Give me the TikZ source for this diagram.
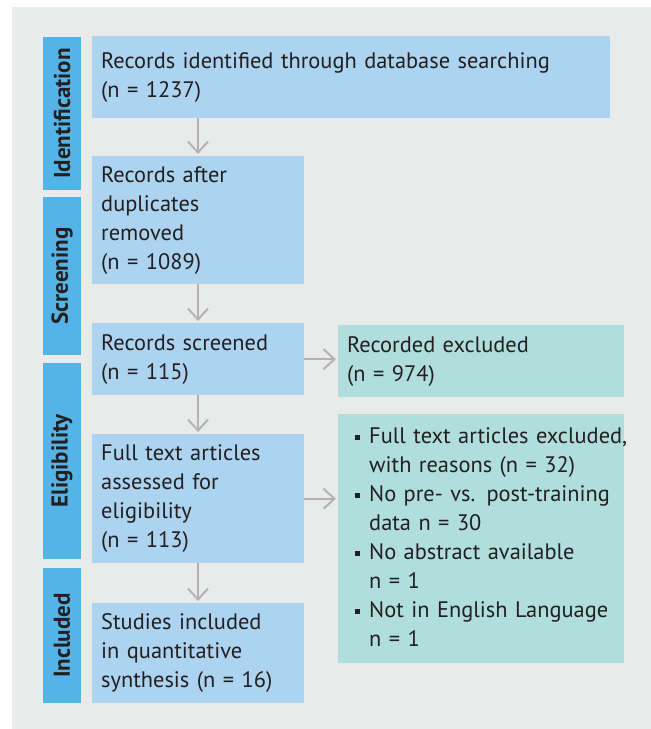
\documentclass[tikz,border=0pt]{standalone}
\usepackage{fontspec}
\setmainfont{PT Sans}
\usetikzlibrary{arrows.meta}
\definecolor{panel}{HTML}{E9EBEB}
\definecolor{boxblue}{HTML}{ACD3F0}
\definecolor{teal}{HTML}{B0DEDC}
\definecolor{labelblue}{HTML}{55B4E7}
\definecolor{txt}{HTML}{231F20}
\definecolor{arr}{HTML}{B3B3B3}
\newcommand\mainsz{\fontsize{22.4}{29}\selectfont}
\newcommand\sq{\rule[3.5pt]{5pt}{5pt}}
\tikzset{
  box/.style={fill=boxblue, anchor=north west, inner xsep=9pt, inner ysep=0pt, align=left, font=\mainsz, text=txt},
  exbox/.style={box, fill=teal},
  sidelabel/.style={fill=labelblue, rotate=90, minimum height=38pt, inner sep=0pt, font=\fontsize{23}{26}\selectfont\bfseries, text=txt},
  flow/.style={draw=arr, line width=2pt, -{Straight Barb[length=11pt,width=20pt,line width=2pt]}, shorten >=2pt}
}
\begin{document}
\begin{tikzpicture}[x=1pt,y=-1pt]
\useasboundingbox (0,0) rectangle (651,729);
\fill[white] (0,0) rectangle (651,729);
\fill[panel] (12,7) rectangle (651,729);
% side labels
\node[sidelabel, minimum width=153pt] (lid) at (62,113.5) {Identification};
\node[sidelabel, minimum width=158pt] (lsc) at (62,276) {Screening};
\node[sidelabel, minimum width=196pt] (lel) at (62,461) {Eligibility};
\node[sidelabel, minimum width=135pt] (lin) at (62,635.5) {Included};
% main boxes
\node[box, minimum width=518pt, minimum height=82pt, text width=500pt] (b1) at (92,36)
  {Records identified through database searching\\(n = 1237)};
\node[box, minimum width=212pt, minimum height=128pt, text width=194pt] (b2) at (92,156)
  {Records after\\duplicates\\removed\\(n = 1089)};
\node[box, minimum width=212pt, minimum height=72pt, text width=194pt] (b3) at (92,323)
  {Records screened\\(n = 115)};
\node[box, minimum width=212pt, minimum height=129pt, text width=194pt] (b4) at (92,434)
  {Full text articles\\assessed for\\eligibility\\(n = 113)};
\node[box, minimum width=212pt, minimum height=100pt, text width=194pt] (b5) at (92,603)
  {Studies included\\in quantitative\\synthesis (n = 16)};
% exclusion boxes
\node[exbox, minimum width=286pt, minimum height=72pt, text width=268pt] (e1) at (338,325)
  {Recorded excluded\\(n = 974)};
\node[exbox, minimum width=286pt, minimum height=249pt, text width=252pt, inner xsep=17pt] (e2) at (338,414)
  {\begin{tabular}{@{}l@{\hspace{9pt}}l@{}}
   \sq & Full text articles excluded,\\
       & with reasons (n = 32)\\
   \sq & No pre- vs. post-training\\
       & data n = 30\\
   \sq & No abstract available\\
       & n = 1\\
   \sq & Not in English Language\\
       & n = 1
   \end{tabular}};
% arrows
\draw[flow] (b1.south -| 198,0) -- (b2.north -| 198,0);
\draw[flow] (b2.south -| 198,0) -- (b3.north -| 198,0);
\draw[flow] (b3.south -| 198,0) -- (b4.north -| 198,0);
\draw[flow] (b4.south -| 198,0) -- (b5.north -| 198,0);
\draw[flow] (b3.east) -- (e1.west |- b3.east);
\draw[flow] (b4.east) -- (e2.west |- b4.east);
\end{tikzpicture}
\end{document}
